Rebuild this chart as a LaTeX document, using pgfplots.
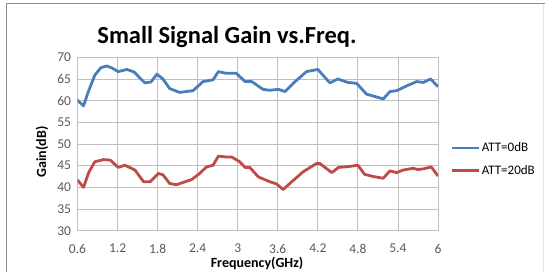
\documentclass[border=0pt]{standalone}
\usepackage{fontspec}
\setmainfont{Carlito}
\usepackage{pgfplots}
\pgfplotsset{compat=1.18}
\definecolor{blueS}{HTML}{4A7EBB}
\definecolor{redS}{HTML}{BE4B48}
\definecolor{tickc}{HTML}{595959}
\definecolor{gridc}{HTML}{BFBFBF}
\begin{document}
\begin{tikzpicture}[x=1bp,y=1bp]
\path[use as bounding box] (0,0) rectangle (545,272);
\draw[color=black!45, line width=1bp] (6,0) -- (6,268) -- (545,268);
\draw[color=black!10, line width=0.8bp] (543,268) -- (543,0);
\begin{axis}[
  at={(77.5bp,41.3bp)}, anchor=south west,
  width=360.5bp, height=173.4bp, scale only axis,
  xmin=0.6, xmax=6, ymin=30, ymax=70,
  xtick={0.6,1.2,...,6.0}, ytick={30,35,...,70},
  xticklabel style={/pgf/number format/fixed,/pgf/number format/precision=1},
  /pgf/number format/assume math mode=true,
  ticklabel style={font=\fontsize{13.5bp}{15bp}\selectfont, color=tickc},
  grid=both, major grid style={color=gridc, line width=0.8bp},
  axis line style={color=gridc, line width=0.8bp},
  tick style={draw=none},
  xticklabel shift=10bp, yticklabel shift=3bp,
  legend style={at={(1.033,0.52)}, anchor=north west, draw=none, fill=none,
    font=\fontsize{13bp}{15bp}\selectfont, row sep=8bp, inner sep=0pt},
  legend cell align=left,
  legend image code/.code={\draw[#1, line width=2.8bp] (0bp,0bp) -- (27bp,0bp);},
]
\addplot[blueS, line width=2.8bp, line join=round] coordinates {
(0.60,60.1)(0.69,58.8)(0.76,62.0)(0.86,65.9)(0.95,67.6)(1.04,68.0)(1.12,67.5)(1.21,66.7)
(1.34,67.2)(1.45,66.6)(1.53,65.3)(1.61,64.1)(1.70,64.3)(1.79,66.1)(1.88,65.0)(1.98,62.8)
(2.13,61.9)(2.33,62.3)(2.48,64.4)(2.63,64.8)(2.71,66.7)(2.83,66.3)(2.98,66.3)(3.11,64.4)
(3.21,64.4)(3.38,62.6)(3.48,62.4)(3.61,62.6)(3.71,62.1)(3.86,64.4)(4.03,66.7)(4.20,67.2)
(4.38,64.1)(4.50,65.0)(4.65,64.2)(4.78,64.0)(4.93,61.5)(5.18,60.4)(5.28,62.1)(5.38,62.3)
(5.53,63.4)(5.68,64.4)(5.78,64.2)(5.89,65.0)(6.00,63.2)
};
\addlegendentry{ATT=0dB}
\addplot[redS, line width=2.8bp, line join=round] coordinates {
(0.60,41.7)(0.69,40.0)(0.77,43.5)(0.86,45.9)(0.99,46.4)(1.09,46.3)(1.21,44.6)(1.31,45.1)
(1.46,44.0)(1.59,41.3)(1.69,41.3)(1.81,43.2)(1.88,42.9)(1.98,40.9)(2.08,40.6)(2.31,41.8)
(2.43,43.2)(2.53,44.7)(2.63,45.1)(2.71,47.2)(2.83,47.0)(2.91,47.0)(3.03,45.9)(3.11,44.6)
(3.18,44.6)(3.31,42.4)(3.48,41.3)(3.58,40.8)(3.68,39.5)(3.81,41.3)(3.98,43.6)(4.18,45.5)
(4.23,45.5)(4.41,43.4)(4.51,44.6)(4.66,44.8)(4.80,45.1)(4.90,43.0)(5.03,42.5)(5.18,42.1)
(5.28,43.8)(5.38,43.4)(5.48,44.0)(5.63,44.4)(5.70,44.1)(5.79,44.3)(5.90,44.7)(6.00,42.6)
};
\addlegendentry{ATT=20dB}
\end{axis}
\node[font=\bfseries\fontsize{24.5bp}{26bp}\selectfont, anchor=base] at (227,229) {Small Signal Gain vs.Freq.};
\node[font=\bfseries\fontsize{14bp}{16bp}\selectfont, anchor=base] at (257,5) {Frequency(GHz)};
\node[font=\bfseries\fontsize{14bp}{16bp}\selectfont, rotate=90, anchor=base] at (46,120) {Gain(dB)};
\end{tikzpicture}
\end{document}
